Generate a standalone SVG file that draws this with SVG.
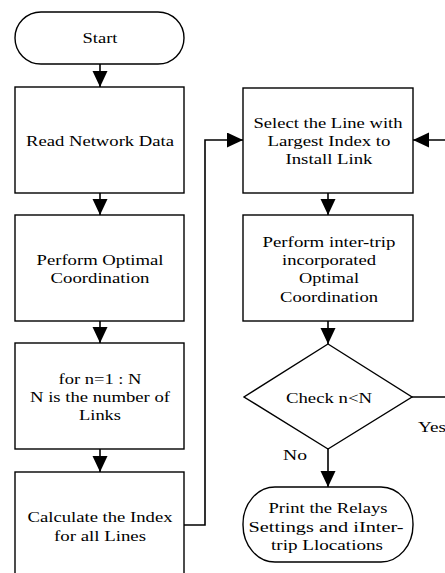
<svg xmlns="http://www.w3.org/2000/svg" width="445" height="573" viewBox="0 0 445 573">
<style>
.n{fill:#fff;stroke:#000;stroke-width:1.4}
.c{fill:none;stroke:#000;stroke-width:1.6}
text{font-family:"Liberation Serif","Times New Roman",serif;font-size:14px;fill:#000;text-anchor:middle}
.l{text-anchor:start}
</style>
<defs>
<marker id="ah" markerUnits="userSpaceOnUse" markerWidth="16" markerHeight="16" refX="16" refY="7.5" orient="auto">
<path d="M0,0 L16,7.5 L0,15 Z" fill="#000"/>
</marker>
</defs>
<rect width="445" height="573" fill="#fff"/>
<g id="connectors">
<path class="c" d="M100,64 V87" marker-end="url(#ah)"/>
<path class="c" d="M100,193 V215" marker-end="url(#ah)"/>
<path class="c" d="M100,321 V343" marker-end="url(#ah)"/>
<path class="c" d="M100,449 V472" marker-end="url(#ah)"/>
<path class="c" d="M184,525 H205 V140 H243" marker-end="url(#ah)"/>
<path class="c" d="M328,193 V215" marker-end="url(#ah)"/>
<path class="c" d="M328,321 V344" marker-end="url(#ah)"/>
<path class="c" d="M328,449 V487" marker-end="url(#ah)"/>
<path class="c" d="M412,397 H447"/>
<path class="c" d="M447,140 H413" marker-end="url(#ah)"/>
<text class="l" x="418" y="432" textLength="28" lengthAdjust="spacingAndGlyphs">Yes</text>
<text x="295" y="460" textLength="24" lengthAdjust="spacingAndGlyphs">No</text>
</g>
<g id="start">
<rect class="n" x="15" y="12" width="169" height="52" rx="26" ry="26"/>
<text x="100" y="43" textLength="35" lengthAdjust="spacingAndGlyphs">Start</text>
</g>
<g id="read">
<rect class="n" x="15" y="87" width="169" height="106"/>
<text x="100" y="146" textLength="148" lengthAdjust="spacingAndGlyphs">Read Network Data</text>
</g>
<g id="optimal">
<rect class="n" x="15" y="215" width="169" height="106"/>
<text x="100" y="265" textLength="127" lengthAdjust="spacingAndGlyphs">Perform Optimal</text>
<text x="100" y="283" textLength="99" lengthAdjust="spacingAndGlyphs">Coordination</text>
</g>
<g id="loop">
<rect class="n" x="15" y="343" width="169" height="106"/>
<text x="100" y="384" textLength="83" lengthAdjust="spacingAndGlyphs">for n=1 : N</text>
<text x="100" y="402" textLength="140" lengthAdjust="spacingAndGlyphs">N is the number of</text>
<text x="100" y="420" textLength="42" lengthAdjust="spacingAndGlyphs">Links</text>
</g>
<g id="calc">
<rect class="n" x="15" y="472" width="169" height="110"/>
<text x="100" y="522" textLength="145" lengthAdjust="spacingAndGlyphs">Calculate the Index</text>
<text x="100" y="541" textLength="92" lengthAdjust="spacingAndGlyphs">for all Lines</text>
</g>
<g id="select">
<rect class="n" x="243" y="88" width="170" height="105"/>
<text x="328" y="128" textLength="149" lengthAdjust="spacingAndGlyphs">Select the Line with</text>
<text x="329" y="146" textLength="123" lengthAdjust="spacingAndGlyphs">Largest Index to</text>
<text x="329" y="164" textLength="87" lengthAdjust="spacingAndGlyphs">Install Link</text>
</g>
<g id="intertrip">
<rect class="n" x="243" y="215" width="170" height="106"/>
<text x="329" y="247" textLength="133" lengthAdjust="spacingAndGlyphs">Perform inter-trip</text>
<text x="329" y="265" textLength="94" lengthAdjust="spacingAndGlyphs">incorporated</text>
<text x="329" y="283" textLength="60" lengthAdjust="spacingAndGlyphs">Optimal</text>
<text x="329" y="302" textLength="98" lengthAdjust="spacingAndGlyphs">Coordination</text>
</g>
<g id="check">
<path class="n" d="M328,344 L412,397 L328,449 L244,397 Z"/>
<text x="329" y="403" textLength="86" lengthAdjust="spacingAndGlyphs">Check n&lt;N</text>
</g>
<g id="print">
<rect class="n" x="243" y="487" width="170" height="75" rx="32" ry="37"/>
<text x="328" y="513" textLength="119" lengthAdjust="spacingAndGlyphs">Print the Relays</text>
<text x="326" y="532" textLength="155" lengthAdjust="spacingAndGlyphs">Settings and iInter-</text>
<text x="327" y="550" textLength="112" lengthAdjust="spacingAndGlyphs">trip Llocations</text>
</g>
</svg>
